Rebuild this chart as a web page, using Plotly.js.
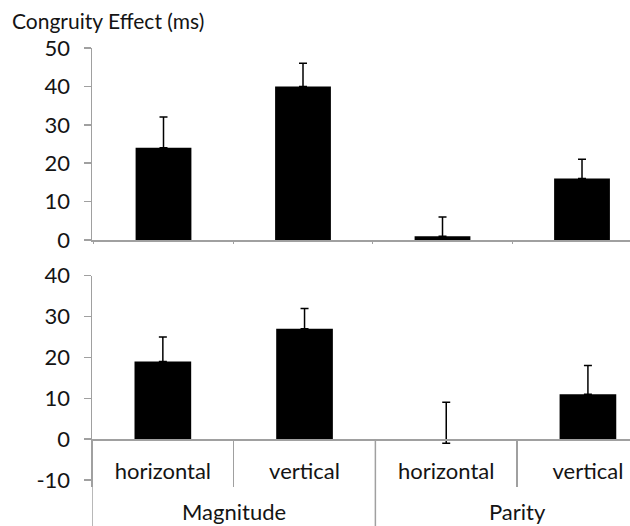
<!DOCTYPE html>
<html>
<head>
<meta charset="utf-8">
<script src="https://cdn.plot.ly/plotly-3.0.1.min.js"></script>
<style>html,body{margin:0;padding:0;background:#fff;}#chart{width:630px;height:526px;}</style>
</head>
<body>
<div id="chart"></div>
<script>
// ---- data ----
var groups = ["Magnitude", "Magnitude", "Parity", "Parity"];
var conditions = ["horizontal", "vertical", "horizontal", "vertical"];
var keys = ["Magnitude horizontal", "Magnitude vertical", "Parity horizontal", "Parity vertical"];
var topValues = [24, 40, 1, 16];
var topErrPlus = [8, 6, 5, 5];
var topErrMinus = [0, 0, 0, 0];
var bottomValues = [19, 27, 0, 11];
var bottomErrPlus = [6, 5, 9, 7];
var bottomErrMinus = [0, 0, 1, 0];
var groupNames = ["Magnitude", "Parity"];
var topTicks = [0, 10, 20, 30, 40, 50];
var bottomTicks = [-10, 0, 10, 20, 30, 40];
var yTitle = "Congruity Effect (ms)";

var FONT = "Lato, 'Open Sans', sans-serif";
var FS = 22;
var TXT = "#141414";
var AX = "#a0a0a0";
var H = 526;
function py(p) { return 1 - p / H; }

var traces = [
  {
    type: "bar", x: keys, y: topValues, xaxis: "x", yaxis: "y",
    width: 0.4, marker: {color: "#000"},
    error_y: {type: "data", symmetric: false, array: topErrPlus, arrayminus: topErrMinus,
              color: "#000", thickness: 1.5, width: 4}
  },
  {
    type: "bar", x: keys, y: bottomValues, xaxis: "x2", yaxis: "y2",
    width: 0.4, marker: {color: "#000"},
    error_y: {type: "data", symmetric: false, array: bottomErrPlus, arrayminus: bottomErrMinus,
              color: "#000", thickness: 1.5, width: 4}
  }
];

var groupCenters = groupNames.map(function (g) {
  var idx = []; groups.forEach(function (gg, i) { if (gg === g) idx.push(i); });
  return (idx[0] + idx[idx.length - 1]) / 2;
});
var groupBounds = [-0.5];
for (var i = 1; i < groups.length; i++) if (groups[i] !== groups[i - 1]) groupBounds.push(i - 0.5);

var axisPos = py(439.3);

var annotations = groupNames.map(function (g, i) {
  return {text: g, xref: "x2", x: groupCenters[i], yref: "paper", y: py(511),
          yanchor: "middle", xanchor: "center", showarrow: false,
          font: {family: FONT, size: FS, color: TXT}};
});

var shapes = groupBounds.map(function (b) {
  return {type: "line", xref: "x2", x0: b, x1: b, yref: "paper", y0: axisPos, y1: 0,
          line: {color: AX, width: 1.5}};
});

function tickText(arr) { return arr.map(function (v) { return String(v); }); }

var layout = {
  width: 630, height: 526,
  margin: {l: 92, r: 0, t: 0, b: 0},
  paper_bgcolor: "#fff", plot_bgcolor: "#fff",
  font: {family: FONT, size: FS, color: TXT},
  showlegend: false,
  title: {text: yTitle, xref: "container", x: 12 / 630, xanchor: "left",
          yref: "container", y: py(22), yanchor: "middle",
          font: {family: FONT, size: 21, color: TXT}},
  xaxis: {
    type: "category", domain: [0, 1], anchor: "y",
    range: [-0.5125, 3.344], showline: true, linecolor: AX, linewidth: 1.5,
    ticks: "outside", tickson: "boundaries", ticklen: 2, tickcolor: AX, tickwidth: 1,
    showticklabels: false, showgrid: false, zeroline: false, fixedrange: true
  },
  yaxis: {
    domain: [py(240), py(48)], anchor: "x",
    range: [0, 50], tickmode: "array", tickvals: topTicks, ticktext: tickText(topTicks),
    showline: true, linecolor: AX, linewidth: 1.5,
    ticks: "outside", ticklen: 7, tickcolor: AX, tickwidth: 1.5,
    showgrid: false, zeroline: false, fixedrange: true,
    tickfont: {family: FONT, size: FS, color: TXT}, ticklabelstandoff: 9
  },
  xaxis2: {
    type: "category", domain: [0, 1], anchor: "free", position: axisPos,
    range: [-0.5, 3.297], showline: true, linecolor: AX, linewidth: 1.5,
    ticks: "outside", tickson: "boundaries", ticklen: 46, tickcolor: AX, tickwidth: 1.5,
    tickmode: "array", tickvals: keys, ticktext: conditions,
    showgrid: false, zeroline: false, fixedrange: true,
    tickfont: {family: FONT, size: FS, color: TXT}, ticklabelstandoff: 12
  },
  yaxis2: {
    domain: [py(480), py(275.7)], anchor: "x2",
    range: [-10, 40], tickmode: "array", tickvals: bottomTicks, ticktext: tickText(bottomTicks),
    showline: true, linecolor: AX, linewidth: 1.5,
    ticks: "outside", ticklen: 7, tickcolor: AX, tickwidth: 1.5,
    showgrid: false, zeroline: false, fixedrange: true,
    tickfont: {family: FONT, size: FS, color: TXT}, ticklabelstandoff: 9
  },
  annotations: annotations,
  shapes: shapes
};

Plotly.newPlot("chart", traces, layout, {staticPlot: true, displayModeBar: false});
</script>
</body>
</html>
